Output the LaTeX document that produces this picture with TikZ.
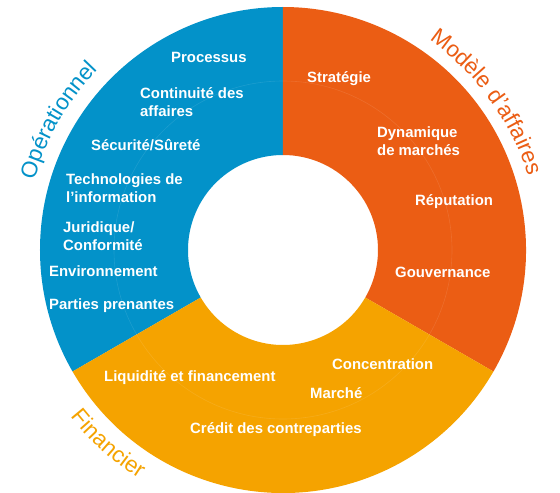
\documentclass[tikz,border=0pt]{standalone}
\usepackage{fontspec}
\setmainfont{Liberation Sans}
\usepackage{tikz}
\usetikzlibrary{decorations.text}
\definecolor{opblue}{HTML}{0392C9}
\definecolor{maorange}{HTML}{EB5D14}
\definecolor{fiyellow}{HTML}{F5A300}

\begin{document}
\begin{tikzpicture}[x=1pt, y=1pt]
   \useasboundingbox[fill=white] (-283,-243) rectangle (277,250);
   % the three sectors of the ring
   \fill[opblue] (90:243) arc[start angle=90, end angle=210, radius=243] -- (210:95) arc[start angle=210, end angle=90, radius=95] -- cycle;
   \fill[maorange] (-30:243) arc[start angle=-30, end angle=90, radius=243] -- (90:95) arc[start angle=90, end angle=-30, radius=95] -- cycle;
   \fill[fiyellow] (210:243) arc[start angle=210, end angle=330, radius=243] -- (330:95) arc[start angle=330, end angle=210, radius=95] -- cycle;
   \draw[white, opacity=0.1, line width=0.6pt] (0,0) circle[radius=169];
   \begin{scope}[every node/.style={anchor=west, inner sep=0pt, align=left, text=white, font=\fontsize{14.9}{18}\selectfont\bfseries}]
    \node (op1) at (-112,193) {Processus};
    \node (op2) at (-143,148) {Continuité des\\affaires};
    \node (op3) at (-192,105) {Sécurité/Sûreté};
    \node (op4) at (-217,62) {Technologies de\\l’information};
    \node (op5) at (-220,14) {Juridique/\\Conformité};
    \node (op6) at (-234,-21) {Environnement};
    \node (op7) at (-234,-56) {Parties prenantes};
    \node (ma1) at (24,171) {Stratégie};
    \node (ma2) at (94,109) {Dynamique\\de marchés};
    \node (ma3) at (132,48) {Réputation};
    \node (ma4) at (112,-22) {Gouvernance};
    \node (fi1) at (-179,-128) {Liquidité et financement};
    \node (fi2) at (49,-114) {Concentration};
    \node (fi3) at (27,-143) {Marché};
    \node (fi4) at (-93,-180) {Crédit des contreparties};
   \end{scope}
   % titles along the rim
   \path[decorate, decoration={text along path, text align=center, text={|\fontsize{22.5}{27}\selectfont\color{opblue}|Opérationnel}}] (176:258) arc[start angle=176, end angle=124, radius=258];
   \path[decorate, decoration={text along path, text align=center, text={|\fontsize{22.5}{27}\selectfont\color{maorange}|Modèle d’affaires}}] (66:256) arc[start angle=66, end angle=6, radius=256];
   \path[decorate, decoration={text along path, text align=center, text={|\fontsize{22.5}{27}\selectfont\color{fiyellow}|Financier}}] (205:270) arc[start angle=205, end angle=251, radius=270];
\end{tikzpicture}
\end{document}
